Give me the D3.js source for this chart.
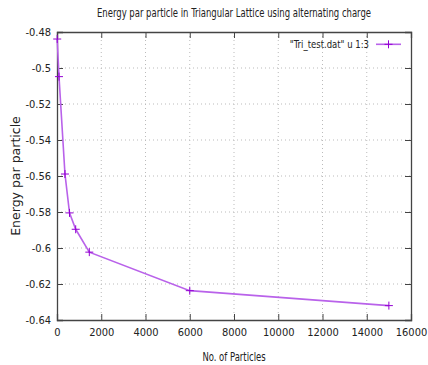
<!DOCTYPE html>
<html>
<head>
<meta charset="utf-8">
<script src="https://cdn.jsdelivr.net/npm/d3@7"></script>
<style>
body { margin: 0; background: #fff; }
text { font-family: "DejaVu Sans Condensed", "Liberation Sans Narrow", "DejaVu Sans", sans-serif; font-stretch: condensed; fill: #222; }
</style>
</head>
<body>
<svg id="chart" width="428" height="365"></svg>
<script>
// particles vs energy per particle
var particles = [10, 90, 360, 565, 845, 1460, 6000, 15000];
var energies = [-0.4839, -0.5048, -0.5589, -0.5805, -0.5896, -0.6023, -0.6237, -0.6320];
var xTicks = [0, 2000, 4000, 6000, 8000, 10000, 12000, 14000, 16000];
var yTicks = [-0.48, -0.5, -0.52, -0.54, -0.56, -0.58, -0.6, -0.62, -0.64];

var svg = d3.select("#chart"),
    margin = {top: 32, right: 17, bottom: 45, left: 57},
    width = 428 - margin.left - margin.right,
    height = 365 - margin.top - margin.bottom;

var g = svg.append("g")
    .attr("transform", "translate(" + margin.left + "," + margin.top + ")");

var x = d3.scaleLinear().domain([0, 16000]).range([0, width]);
var y = d3.scaleLinear().domain([-0.64, -0.48]).range([height, 0]);

// grid
g.selectAll(".gx").data(xTicks.slice(1, -1)).enter().append("line")
    .attr("x1", function(d) { return x(d); }).attr("x2", function(d) { return x(d); })
    .attr("y1", 0).attr("y2", height)
    .attr("stroke", "#bbb").attr("stroke-dasharray", "1,3");
g.selectAll(".gy").data(yTicks.slice(1, -1)).enter().append("line")
    .attr("y1", function(d) { return y(d); }).attr("y2", function(d) { return y(d); })
    .attr("x1", 0).attr("x2", width)
    .attr("stroke", "#bbb").attr("stroke-dasharray", "1,3");

var fmt = function(d) { return String(+d.toFixed(2)); };

g.append("g").attr("transform", "translate(0," + height + ")")
    .call(d3.axisBottom(x).tickValues(xTicks).tickSize(-6).tickPadding(8).tickFormat(d3.format("d")));
g.append("g")
    .call(d3.axisTop(x).tickValues(xTicks).tickSize(-6).tickFormat(""));
g.append("g")
    .call(d3.axisLeft(y).tickValues(yTicks).tickSize(-6).tickPadding(6).tickFormat(fmt));
g.append("g").attr("transform", "translate(" + width + ",0)")
    .call(d3.axisRight(y).tickValues(yTicks).tickSize(-6).tickFormat(""));

g.selectAll(".domain").attr("stroke", "#444").attr("stroke-width", 1.3);
g.selectAll(".tick line").attr("stroke", "#444").attr("stroke-width", 1);
g.selectAll(".tick text").attr("font-size", 11).style("font-family", null).attr("fill", "#222");

var pts = particles.map(function(p, i) { return [p, energies[i]]; });

var line = d3.line()
    .x(function(d) { return x(d[0]); })
    .y(function(d) { return y(d[1]); });

g.append("path").datum(pts)
    .attr("fill", "none")
    .attr("stroke", "#b962ea")
    .attr("stroke-width", 1.6)
    .attr("d", line);

g.selectAll(".pt").data(pts).enter().append("path")
    .attr("transform", function(d) { return "translate(" + x(d[0]) + "," + y(d[1]) + ")"; })
    .attr("d", "M-4,0H4M0,-4V4")
    .attr("stroke", "#9400d3")
    .attr("stroke-width", 1);

// legend
g.append("text").attr("transform", "translate(312,16) scale(0.86,1)")
    .attr("text-anchor", "end").attr("font-size", 11)
    .text("\"Tri_test.dat\" u 1:3");
g.append("line").attr("x1", 319).attr("x2", 344).attr("y1", 12.3).attr("y2", 12.3)
    .attr("stroke", "#b962ea").attr("stroke-width", 1.6);
g.append("path").attr("transform", "translate(331.5,12.3)")
    .attr("d", "M-4,0H4M0,-4V4").attr("stroke", "#9400d3");

// titles
svg.append("text").attr("transform", "translate(234,17) scale(0.82,1)").attr("text-anchor", "middle")
    .attr("font-size", 11.5)
    .text("Energy par particle in Triangular Lattice using alternating charge");
svg.append("text").attr("transform", "translate(234,361) scale(0.82,1)").attr("text-anchor", "middle")
    .attr("font-size", 11.5)
    .text("No. of Particles");
svg.append("text").attr("transform", "translate(20,176) rotate(-90)")
    .attr("text-anchor", "middle").attr("font-size", 12.5)
    .style("font-family", "DejaVu Sans, sans-serif").style("font-stretch", "normal")
    .attr("fill", "#333")
    .text("Energy par particle");
</script>
</body>
</html>
